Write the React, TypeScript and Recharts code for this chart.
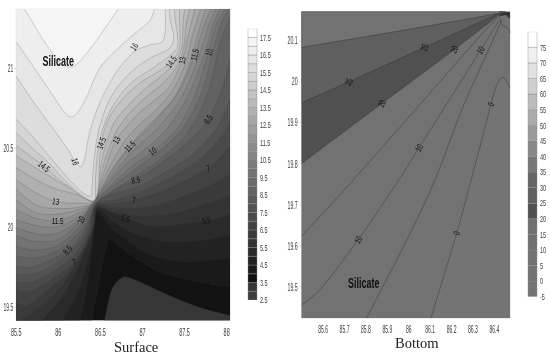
import { Bar, BarChart, Scatter, ScatterChart, XAxis, YAxis } from 'recharts';

type Pt = [number, number];

// ---- Surface panel ----
const surfaceBox = { left: 85.5, right: 88.04, bottom: 19.42, top: 21.37 };
const surfaceXTicks = [85.5, 86, 86.5, 87, 87.5, 88];
const surfaceYTicks = [19.5, 20, 20.5, 21];
const surfaceBarTicks = [2.5, 3.5, 4.5, 5.5, 6.5, 7.5, 8.5, 9.5, 10.5, 11.5, 12.5, 13.5, 14.5, 15.5, 16.5, 17.5];
// colour of each 0.5 band, from 2.5 upwards
const surfaceColors = [
  '#3d3d3d', '#363636', '#121212', '#1a1a1a', '#222222', '#2a2a2a', '#333333', '#3a3a3a',
  '#424242', '#4a4a4a', '#525252', '#5a5a5a', '#626262', '#6a6a6a', '#737373', '#7b7b7b',
  '#848484', '#8c8c8c', '#959595', '#9e9e9e', '#a7a7a7', '#b0b0b0', '#b9b9b9', '#c3c3c3',
  '#cccccc', '#d5d5d5', '#dddddd', '#e6e6e6', '#eeeeee', '#f5f5f5', '#ffffff',
];

const c4: Pt[] = [[86.4, 19.42], [86.49, 19.69], [86.58, 19.91], [86.63, 19.92], [86.77, 19.865], [86.96, 19.795], [87.28, 19.71], [87.78, 19.65], [88.04, 19.63]];
const c4_5: Pt[] = [[86.25, 19.42], [86.34, 19.645], [86.42, 19.97], [86.46, 20.105], [86.61, 20.01], [86.77, 19.94], [87.08, 19.835], [87.48, 19.79], [88.04, 19.81]];
const c5: Pt[] = [[86.05, 19.42], [86.25, 19.625], [86.39, 19.895], [86.46, 20.115], [86.65, 20.04], [86.88, 19.97], [87.28, 19.915], [87.76, 19.925], [88.04, 19.96]];
const c5_5: Pt[] = [[85.81, 19.42], [86.09, 19.605], [86.35, 19.895], [86.43, 20.03], [86.46, 20.125], [86.65, 20.095], [86.81, 20.06], [87.16, 20.01], [87.76, 20.045], [88.04, 20.085]];
const c6: Pt[] = [[85.53, 19.42], [85.73, 19.48], [86.05, 19.645], [86.29, 19.845], [86.41, 20.01], [86.45, 20.13], [86.69, 20.095], [87.0, 20.075], [87.4, 20.095], [87.78, 20.155], [88.04, 20.2]];
const c6_5: Pt[] = [[85.5, 19.53], [85.63, 19.515], [85.89, 19.615], [86.15, 19.74], [86.39, 19.97], [86.45, 20.135], [86.67, 20.125], [86.96, 20.125], [87.32, 20.165], [87.78, 20.26], [88.04, 20.335]];
const c7: Pt[] = [[85.5, 19.615], [85.65, 19.6], [85.89, 19.665], [86.19, 19.785], [86.37, 19.97], [86.44, 20.14], [86.65, 20.15], [86.9, 20.175], [87.28, 20.24], [87.78, 20.375], [88.04, 20.51]];
const c7_5: Pt[] = [[85.5, 19.66], [85.69, 19.66], [85.89, 19.71], [86.17, 19.82], [86.35, 19.97], [86.44, 20.145], [86.67, 20.175], [86.96, 20.22], [87.32, 20.31], [87.68, 20.43], [87.9, 20.55], [88.04, 20.655]];
const c8: Pt[] = [[85.5, 19.71], [85.69, 19.71], [85.89, 19.75], [86.15, 19.855], [86.33, 19.98], [86.44, 20.15], [86.65, 20.21], [86.96, 20.26], [87.32, 20.365], [87.64, 20.48], [87.88, 20.625], [88.04, 20.8]];
const c8_5: Pt[] = [[85.5, 19.76], [85.73, 19.76], [86.11, 19.86], [86.31, 19.99], [86.44, 20.15], [86.61, 20.23], [86.92, 20.3], [87.28, 20.43], [87.56, 20.55], [87.78, 20.68], [87.94, 20.865], [88.04, 21.05]];
const c9: Pt[] = [[85.5, 19.825], [85.73, 19.81], [86.05, 19.875], [86.29, 20.0], [86.44, 20.155], [86.88, 20.31], [87.28, 20.46], [87.56, 20.615], [87.78, 20.855], [87.92, 21.155], [88.04, 21.32]];
const c9_5: Pt[] = [[85.5, 19.885], [85.73, 19.86], [86.01, 19.895], [86.27, 20.02], [86.43, 20.165], [86.88, 20.355], [87.2, 20.48], [87.48, 20.625], [87.7, 20.845], [87.84, 21.115], [87.94, 21.29], [88.02, 21.37]];
const c10: Pt[] = [[85.5, 19.95], [85.73, 19.915], [86.01, 19.93], [86.27, 20.05], [86.43, 20.165], [86.83, 20.365], [87.12, 20.48], [87.4, 20.615], [87.62, 20.825], [87.78, 21.1], [87.88, 21.28], [87.98, 21.37]];
const c10_5: Pt[] = [[85.5, 20.0], [85.77, 19.96], [86.01, 19.97], [86.27, 20.06], [86.43, 20.165], [86.75, 20.375], [87.0, 20.48], [87.28, 20.615], [87.54, 20.825], [87.73, 21.085], [87.84, 21.28], [87.92, 21.37]];
const c11: Pt[] = [[85.5, 20.05], [85.77, 20.01], [86.01, 20.01], [86.27, 20.08], [86.43, 20.17], [86.69, 20.365], [86.92, 20.5], [87.2, 20.635], [87.48, 20.835], [87.67, 21.075], [87.78, 21.26], [87.87, 21.37]];
const c11_5: Pt[] = [[85.5, 20.115], [85.73, 20.06], [85.99, 20.045], [86.25, 20.095], [86.43, 20.17], [86.65, 20.365], [86.85, 20.51], [87.16, 20.675], [87.44, 20.865], [87.62, 21.085], [87.72, 21.25], [87.81, 21.37]];
const c12: Pt[] = [[85.5, 20.175], [85.73, 20.095], [85.97, 20.085], [86.25, 20.115], [86.43, 20.17], [86.61, 20.345], [86.81, 20.49], [87.0, 20.605], [87.2, 20.71], [87.4, 20.835], [87.56, 21.03], [87.66, 21.22], [87.75, 21.37]];
const c12_5: Pt[] = [[85.5, 20.24], [85.73, 20.145], [85.97, 20.12], [86.25, 20.13], [86.43, 20.17], [86.57, 20.345], [86.77, 20.53], [86.96, 20.645], [87.16, 20.74], [87.36, 20.865], [87.51, 21.03], [87.59, 21.2], [87.69, 21.37]];
const c13: Pt[] = [[85.5, 20.3], [85.73, 20.22], [85.97, 20.165], [86.23, 20.155], [86.43, 20.175], [86.55, 20.365], [86.69, 20.55], [86.92, 20.7], [87.12, 20.79], [87.32, 20.885], [87.47, 21.05], [87.54, 21.2], [87.62, 21.37]];
const c13_5: Pt[] = [[85.5, 20.375], [85.89, 20.26], [86.21, 20.21], [86.43, 20.175], [86.53, 20.385], [86.61, 20.51], [86.71, 20.625], [86.88, 20.74], [87.08, 20.835], [87.28, 20.925], [87.43, 21.03], [87.49, 21.135], [87.52, 21.28], [87.56, 21.37]];
const c14: Pt[] = [[85.5, 20.45], [85.89, 20.325], [86.17, 20.24], [86.43, 20.175], [86.51, 20.405], [86.57, 20.53], [86.67, 20.665], [86.85, 20.78], [87.04, 20.875], [87.24, 20.96], [87.4, 21.05], [87.47, 21.145], [87.48, 21.28], [87.5, 21.37]];
const c14_5: Pt[] = [[85.5, 20.515], [85.83, 20.385], [86.09, 20.27], [86.43, 20.175], [86.49, 20.43], [86.51, 20.53], [86.59, 20.675], [86.75, 20.8], [86.96, 20.905], [87.16, 20.97], [87.34, 21.04], [87.44, 21.135], [87.44, 21.3], [87.44, 21.37]];
const c15: Pt[] = [[85.5, 20.595], [85.69, 20.5], [85.89, 20.405], [86.09, 20.29], [86.29, 20.2], [86.43, 20.175], [86.44, 20.3], [86.47, 20.49], [86.55, 20.655], [86.69, 20.8], [86.88, 20.915], [87.12, 21.0], [87.38, 21.105], [87.42, 21.175], [87.39, 21.3], [87.38, 21.37]];
const c15_5: Pt[] = [[85.5, 20.68], [85.69, 20.575], [85.89, 20.45], [86.09, 20.325], [86.29, 20.22], [86.39, 20.2], [86.4, 20.26], [86.43, 20.45], [86.49, 20.635], [86.63, 20.825], [86.85, 20.97], [87.08, 21.06], [87.32, 21.125], [87.37, 21.2], [87.33, 21.3], [87.32, 21.37]];
const c16: Pt[] = [[85.5, 20.95], [85.69, 20.8], [85.89, 20.655], [86.09, 20.51], [86.2, 20.415], [86.27, 20.385], [86.32, 20.45], [86.37, 20.595], [86.49, 20.78], [86.67, 20.96], [86.88, 21.095], [87.08, 21.145], [87.23, 21.165], [87.27, 21.24], [87.27, 21.37]];
const c16_5: Pt[] = [[85.5, 21.165], [85.69, 21.02], [85.89, 20.865], [86.05, 20.74], [86.15, 20.695], [86.24, 20.73], [86.35, 20.835], [86.49, 21.0], [86.73, 21.135], [86.96, 21.24], [87.09, 21.3], [87.14, 21.37]];
const c17: Pt[] = [[85.6, 21.37], [85.77, 21.22], [85.89, 21.125], [86.03, 21.03], [86.19, 21.015], [86.41, 21.145], [86.71, 21.37]];
const low3: Pt[] = [[86.55, 19.42], [86.63, 19.605], [86.75, 19.685], [86.88, 19.68], [87.28, 19.585], [87.68, 19.5], [88.04, 19.45]];

const surfaceLevels: [number, Pt[]][] = [
  [4, c4], [4.5, c4_5], [5, c5], [5.5, c5_5], [6, c6], [6.5, c6_5], [7, c7], [7.5, c7_5], [8, c8], [8.5, c8_5],
  [9, c9], [9.5, c9_5], [10, c10], [10.5, c10_5], [11, c11], [11.5, c11_5], [12, c12], [12.5, c12_5], [13, c13],
  [13.5, c13_5], [14, c14], [14.5, c14_5], [15, c15], [15.5, c15_5], [16, c16], [16.5, c16_5], [17, c17],
];

// text, lon, lat, rotation
const surfaceLabels: [string, number, number, number][] = [
  ['16', 86.9, 21.135, -55], ['16', 86.2, 20.415, 75],
  ['14.5', 87.34, 21.04, -55], ['14.5', 86.51, 20.53, -70], ['14.5', 85.83, 20.385, 40],
  ['13', 87.47, 21.05, -80], ['13', 86.69, 20.55, -60], ['13', 85.97, 20.165, 10],
  ['11.5', 87.62, 21.085, -75], ['11.5', 86.85, 20.51, -45], ['11.5', 85.99, 20.045, 0],
  ['10', 87.79, 21.1, -75], ['10', 87.12, 20.48, -35], ['10', 86.27, 20.05, -65],
  ['8.5', 87.78, 20.68, -55], ['8.5', 86.92, 20.3, -10], ['8.5', 86.11, 19.86, -45],
  ['7', 87.78, 20.375, -15], ['7', 86.9, 20.175, 0], ['7', 86.19, 19.785, -20],
  ['5.5', 87.76, 20.045, -10], ['5.5', 86.8, 20.06, 20],
  ['4', 86.89, 19.82, 20], ['4', 87.78, 19.65, 0],
];

// ---- Bottom panel ----
const bottomBox = { left: 85.5, right: 86.473, bottom: 19.424, top: 20.171 };
const bottomXTicks = [85.6, 85.7, 85.8, 85.9, 86, 86.1, 86.2, 86.3, 86.4];
const bottomYTicks = [19.5, 19.6, 19.7, 19.8, 19.9, 20, 20.1];
const bottomBarTicks = [-5, 0, 5, 10, 15, 20, 25, 30, 35, 40, 45, 50, 55, 60, 65, 70, 75];
// colour of each 5 band, from -5 upwards
const bottomColors = [
  '#747474', '#727272', '#727272', '#707070', '#707070', '#505050', '#5f5f5f', '#656565', '#777777',
  '#888888', '#9a9a9a', '#ababab', '#bcbcbc', '#cfcfcf', '#e0e0e0', '#f0f0f0', '#ffffff',
];

const b0: Pt[] = [[86.104, 19.424], [86.224, 19.631], [86.294, 19.765], [86.349, 19.874], [86.384, 19.945], [86.411, 19.992], [86.442, 20.011], [86.473, 19.984]];
const b5: Pt[] = [[85.803, 19.424], [85.998, 19.622], [86.126, 19.765], [86.247, 19.931], [86.372, 20.077], [86.434, 20.15]];
const b10: Pt[] = [[85.5, 19.456], [85.592, 19.497], [85.764, 19.615], [85.959, 19.765], [86.048, 19.839], [86.335, 20.077], [86.422, 20.15]];
const b15: Pt[] = [[85.5, 19.623], [85.748, 19.765], [86.029, 19.931], [86.31, 20.098], [86.416, 20.157]];
const b20: Pt[] = [[85.5, 19.801], [85.874, 19.947], [86.213, 20.079], [86.411, 20.159], [86.43, 20.171]];
const b25: Pt[] = [[85.5, 19.949], [85.72, 20.0], [86.074, 20.084], [86.403, 20.163], [86.42, 20.171]];
const b30: Pt[] = [[85.5, 20.084], [86.0, 20.128], [86.419, 20.167], [86.425, 20.171]];
const bCorner: Pt[] = [[86.426, 20.155], [86.437, 20.138], [86.466, 20.13], [86.473, 20.118]];
const bBlob: Pt[] = [[86.42, 20.159], [86.434, 20.169], [86.473, 20.17], [86.473, 20.154], [86.453, 20.163]];

const bottomLabels: [string, number, number, number][] = [
  ['25', 85.72, 20.0, -65], ['25', 86.074, 20.084, -70],
  ['20', 85.874, 19.947, -65], ['20', 86.213, 20.079, -65],
  ['10', 86.048, 19.839, -60], ['10', 86.335, 20.077, -55], ['10', 85.764, 19.615, -60],
  ['0', 86.384, 19.945, -70], ['0', 86.224, 19.631, -70],
];

const toPoints = (line: Pt[]) => line.map(([x, y]) => ({ x, y }));

// walk along the frame from the contour's end back to its start, upper-left side
const closing = (line: Pt[], box: typeof surfaceBox): Pt[] => {
  const start = line[0];
  const end = line[line.length - 1];
  if (start[1] >= box.top) return [];
  const out: Pt[] = [];
  if (end[0] >= box.right) out.push([box.right, box.top]);
  out.push([box.left, box.top]);
  if (start[1] <= box.bottom) out.push([box.left, box.bottom]);
  return out;
};

const smooth = (pts: { x: number; y: number }[]) => {
  let d = `M${pts[0].x},${pts[0].y}`;
  for (let i = 0; i < pts.length - 1; i++) {
    const p0 = pts[i - 1] || pts[i];
    const p1 = pts[i];
    const p2 = pts[i + 1];
    const p3 = pts[i + 2] || p2;
    d += `C${p1.x + (p2.x - p0.x) / 6},${p1.y + (p2.y - p0.y) / 6} ${p2.x - (p3.x - p1.x) / 6},${p2.y - (p3.y - p1.y) / 6} ${p2.x},${p2.y}`;
  }
  return d;
};

// Scatter hands us the pixel points through its line prop: first n are the contour, the rest close the fill
const region = (fill: string, n: number, stroke: string) => (props: any) => {
  const pts = props.points || [];
  if (!pts.length) return null;
  const curve = pts.slice(0, n);
  const rest = pts.slice(n);
  const head = n > 1 ? smooth(curve) : `M${pts[0].x},${pts[0].y}`;
  const tail = (n > 1 ? rest : pts.slice(1)).map((p: any) => `L${p.x},${p.y}`).join('');
  return (
    <g>
      {fill !== 'none' && <path d={`${head}${tail}Z`} fill={fill} stroke="none" />}
      {n > 1 && stroke !== 'none' && <path d={smooth(curve)} fill="none" stroke={stroke} strokeWidth={0.7} />}
    </g>
  );
};

const NoDot = () => null;

const NarrowTick = (props: any) => {
  const { x, y, payload, textAnchor, baseline, size = 9.5, squeeze = 0.55 } = props;
  return (
    <text
      transform={`translate(${x},${y}) scale(${squeeze},1)`}
      textAnchor={textAnchor}
      dy={baseline || '0.35em'}
      fontSize={size}
      fontFamily="'Liberation Sans', Arial, sans-serif"
      fill="#3a3a3a"
    >
      {payload.value}
    </text>
  );
};

const ContourText = (props: any) => {
  const { cx, cy, payload } = props;
  if (payload.big) {
    return (
      <text transform={`translate(${cx},${cy}) scale(0.6,1)`} textAnchor="middle" dy="0.35em" fontSize={15} fontWeight="bold"
        fontFamily="'Liberation Sans', Arial, sans-serif" fill="#111">
        {payload.text}
      </text>
    );
  }
  return (
    <text transform={`translate(${cx},${cy}) rotate(${payload.angle}) scale(0.7,1)`} textAnchor="middle" dy="0.35em" fontSize={9}
      fontFamily="'Liberation Sans', Arial, sans-serif" fill="#111">
      {payload.text}
    </text>
  );
};

const textData = (labels: [string, number, number, number][]) =>
  labels.map(([text, x, y, angle]) => ({ text, x, y, angle }));

const axisColor = '#d8d8d8';

function ColorBar({ levels, step, colors, ticks, left, top, height, marginTop, marginBottom }: any) {
  const row: any = { name: 'bar', base: levels };
  colors.forEach((_: string, i: number) => { row[`band${i}`] = step; });
  return (
    <div style={{ position: 'absolute', left, top }}>
      <BarChart width={45} height={height} data={[row]} barCategoryGap={0} margin={{ top: marginTop, bottom: marginBottom, left: 18, right: 0 }}>
        <XAxis dataKey="name" hide />
        <YAxis
          orientation="right"
          type="number"
          width={18}
          domain={[levels, levels + step * colors.length]}
          allowDataOverflow
          ticks={ticks}
          interval={0}
          axisLine={false}
          tickLine={false}
          tickSize={1}
          tick={<NarrowTick squeeze={0.58} />}
        />
        <Bar dataKey="base" stackId="c" fill="none" isAnimationActive={false} />
        {colors.map((color: string, i: number) => (
          <Bar key={i} dataKey={`band${i}`} stackId="c" fill={color} stroke="#8c8c8c" strokeWidth={0.4} isAnimationActive={false} />
        ))}
      </BarChart>
    </div>
  );
}

export default function App() {
  const sb = surfaceBox;
  const bb = bottomBox;
  const frameS: Pt[] = [[sb.left, sb.bottom], [sb.right, sb.bottom], [sb.right, sb.top], [sb.left, sb.top]];
  const frameB: Pt[] = [[bb.left, bb.bottom], [bb.right, bb.bottom], [bb.right, bb.top], [bb.left, bb.top]];
  const bottomFills: [Pt[], string][] = [
    [b0, bottomColors[1]], [b5, 'none'], [b10, 'none'], [b15, 'none'],
    [b20, bottomColors[5]], [b25, bottomColors[6]], [b30, '#727272'],
  ];
  return (
    <div style={{ position: 'absolute', left: 0, top: 0, width: 550, height: 356, background: '#fff', overflow: 'hidden', filter: 'blur(0.4px)' }}>
      <div style={{ position: 'absolute', left: 0, top: 0 }}>
        <ScatterChart width={240} height={356} margin={{ top: 4.3, right: 0, bottom: 0, left: 0 }}>
          <XAxis dataKey="x" type="number" domain={[sb.left, sb.right]} ticks={surfaceXTicks} interval={0} height={35.7} stroke={axisColor}
            tickLine={false} tickMargin={1} tick={<NarrowTick baseline="0.75em" size={11} squeeze={0.5} />}
            label={{ value: 'Surface', position: 'insideBottom', offset: 4, dx: 13, style: { fontFamily: "'Liberation Serif', serif", fontSize: 14.5, fill: '#222' } }} />
          <XAxis xAxisId="top" orientation="top" type="number" domain={[sb.left, sb.right]} ticks={surfaceXTicks} interval={0} height={5} stroke={axisColor} tick={false} tickSize={4} />
          <YAxis dataKey="y" type="number" domain={[sb.bottom, sb.top]} ticks={surfaceYTicks} interval={0} width={16.3} stroke={axisColor}
            tickSize={2} tickMargin={1} tick={<NarrowTick size={10} squeeze={0.5} />} />
          <YAxis yAxisId="right" orientation="right" type="number" domain={[sb.bottom, sb.top]} ticks={surfaceYTicks} interval={0} width={10} stroke={axisColor} tick={false} tickSize={4} />
          <Scatter data={toPoints(frameS)} line={region(surfaceColors[2], 0, 'none')} shape={NoDot} isAnimationActive={false} />
          {surfaceLevels.map(([level, line]) => (
            <Scatter
              key={level}
              data={toPoints([...line, ...closing(line, sb)])}
              line={region(surfaceColors[Math.round((level - 2.5) * 2)], line.length, 'rgba(60,60,60,0.3)')}
              shape={NoDot}
              isAnimationActive={false}
            />
          ))}
          <Scatter data={toPoints([...low3, [sb.right, sb.bottom]])} line={region(surfaceColors[1], low3.length, 'rgba(60,60,60,0.3)')} shape={NoDot} isAnimationActive={false} />
          <Scatter data={textData(surfaceLabels)} shape={ContourText} isAnimationActive={false} />
          <Scatter data={[{ text: 'Silicate', x: 86.0, y: 21.045, big: true }]} shape={ContourText} isAnimationActive={false} />
        </ScatterChart>
      </div>

      <ColorBar levels={2.5} step={0.5} colors={surfaceColors} ticks={surfaceBarTicks} left={230} top={20} height={290} marginTop={8.7} marginBottom={10} />

      <div style={{ position: 'absolute', left: 275, top: 0 }}>
        <ScatterChart width={250} height={356} margin={{ top: 5.7, right: 0, bottom: 0, left: 0 }}>
          <XAxis dataKey="x" type="number" domain={[bb.left, bb.right]} ticks={bottomXTicks} interval={0} height={38} stroke={axisColor}
            tickLine={false} tickMargin={1} tick={<NarrowTick baseline="0.75em" size={11} squeeze={0.46} />}
            label={{ value: 'Bottom', position: 'insideBottom', offset: 8, dx: 11, style: { fontFamily: "'Liberation Serif', serif", fontSize: 14.5, fill: '#222' } }} />
          <XAxis xAxisId="top" orientation="top" type="number" domain={[bb.left, bb.right]} ticks={bottomXTicks} interval={0} height={6} stroke={axisColor} tick={false} tickSize={4} />
          <YAxis dataKey="y" type="number" domain={[bb.bottom, bb.top]} ticks={bottomYTicks} interval={0} width={26.7} stroke={axisColor}
            tickSize={2} tickMargin={2} tick={<NarrowTick size={10.5} squeeze={0.5} />} />
          <YAxis yAxisId="right" orientation="right" type="number" domain={[bb.bottom, bb.top]} ticks={bottomYTicks} interval={0} width={15} stroke={axisColor} tick={false} tickSize={4} />
          <Scatter data={toPoints(frameB)} line={region(bottomColors[0], 0, 'none')} shape={NoDot} isAnimationActive={false} />
          {bottomFills.map(([line, color], i) => (
            <Scatter
              key={i}
              data={toPoints([...line, ...closing(line, bb)])}
              line={region(color, line.length, 'rgba(45,45,45,0.6)')}
              shape={NoDot}
              isAnimationActive={false}
            />
          ))}
          <Scatter data={toPoints(bCorner)} line={region('none', bCorner.length, 'rgba(45,45,45,0.6)')} shape={NoDot} isAnimationActive={false} />
          <Scatter data={toPoints(bBlob)} line={region('#333333', 0, 'none')} shape={NoDot} isAnimationActive={false} />
          <Scatter data={textData(bottomLabels)} shape={ContourText} isAnimationActive={false} />
          <Scatter data={[{ text: 'Silicate', x: 85.79, y: 19.51, big: true }]} shape={ContourText} isAnimationActive={false} />
        </ScatterChart>
      </div>

      <ColorBar levels={-5} step={5} colors={bottomColors} ticks={bottomBarTicks} left={509.7} top={20} height={290} marginTop={11.7} marginBottom={13.3} />
    </div>
  );
}
